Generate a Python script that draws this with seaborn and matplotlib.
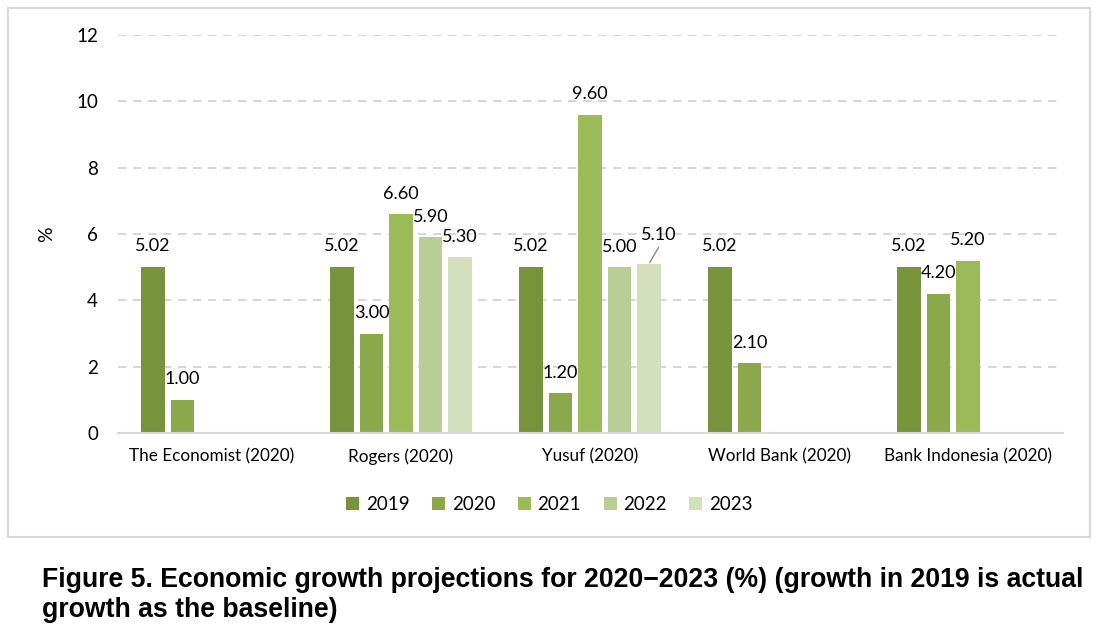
import numpy as np
import pandas as pd
import matplotlib
matplotlib.use("Agg")
import matplotlib.pyplot as plt
from matplotlib.patches import Rectangle
import seaborn as sns

sources = ["The Economist (2020)", "Rogers (2020)", "Yusuf (2020)", "World Bank (2020)", "Bank Indonesia (2020)"]
years = ["2019", "2020", "2021", "2022", "2023"]
v2019 = [5.02, 5.02, 5.02, 5.02, 5.02]
v2020 = [1.00, 3.00, 1.20, 2.10, 4.20]
v2021 = [np.nan, 6.60, 9.60, np.nan, 5.20]
v2022 = [np.nan, 5.90, 5.00, np.nan, np.nan]
v2023 = [np.nan, 5.30, 5.10, np.nan, np.nan]
colors = ["#77933C", "#8CA84C", "#9BBB59", "#B9CD96", "#D3DFBD"]
caption = "Figure 5. Economic growth projections for 2020\u22122023 (%) (growth in 2019 is actual\ngrowth as the baseline)"

series = [v2019, v2020, v2021, v2022, v2023]
rows = []
for y, vals in zip(years, series):
    for s, v in zip(sources, vals):
        if not np.isnan(v):
            rows.append({"source": s, "year": y, "value": v})
df = pd.DataFrame(rows)

sns.set_theme(style="white")
plt.rcParams["font.family"] = ["Lato", "DejaVu Sans"]

fig = plt.figure(figsize=(11.01, 6.44), dpi=100)
ax = fig.add_axes([117.5 / 1101, 1 - 433 / 644, 945 / 1101, 398 / 644])

sns.barplot(data=df, x="source", y="value", hue="year", hue_order=years,
            order=sources, palette=colors, width=0.78, gap=0.2, linewidth=0,
            saturation=1, ax=ax, legend=True, errorbar=None)

ax.set_ylim(0, 12)
ax.set_xlim(-0.5, 4.5)
ax.set_yticks(np.arange(0, 13, 2))
ax.set_yticklabels([str(t) for t in range(0, 13, 2)], fontsize=13.5, color="#000000")
ax.tick_params(axis="y", length=0, pad=14)
ax.tick_params(axis="x", length=0, pad=11, labelsize=12.3, labelcolor="#000000")
ax.yaxis.grid(True, linestyle=(0, (5, 4)), color="#D0D0D0", linewidth=1.2)
ax.set_axisbelow(True)
for sp in ["top", "right", "left"]:
    ax.spines[sp].set_visible(False)
ax.spines["bottom"].set_color("#D9D9D9")
ax.spines["bottom"].set_linewidth(1.5)
ax.set_xlabel("")
ax.set_ylabel("%", fontsize=14, color="#000000")
ax.yaxis.set_label_coords(-0.066, 0.5)

# label offsets (points) for specific bars: (year, source) -> (dx, dy)
special = {("2023", "Yusuf (2020)"): (7, 15)}
leader = {("2023", "Yusuf (2020)")}
for y, vals, cont in zip(years, series, ax.containers):
    present = [s for s, v in zip(sources, vals) if not np.isnan(v)]
    for s, p in zip(present, cont.patches):
        h = p.get_height()
        xc = p.get_x() + p.get_width() / 2
        dx, dy = special.get((y, s), (0, 9))
        ax.annotate(f"{h:.2f}", xy=(xc, h), xytext=(dx, dy), textcoords="offset points",
                    ha="center", va="bottom", fontsize=13, color="#000000")
        if (y, s) in leader:
            ax.annotate("", xy=(xc, h), xytext=(dx, dy - 3), textcoords="offset points",
                        arrowprops=dict(arrowstyle="-", color="#808080", lw=0.9,
                                        shrinkA=0, shrinkB=1))

leg = ax.legend(loc="upper center", bbox_to_anchor=(0.457, -0.115), ncol=5, frameon=False,
                fontsize=13.5, handlelength=0.7, handleheight=0.7, handletextpad=0.35,
                columnspacing=1.2)
for t in leg.get_texts():
    t.set_color("#000000")

fig.patches.append(Rectangle((8 / 1101, 1 - 537 / 644), 1082 / 1101, 529 / 644,
                             transform=fig.transFigure, fill=False,
                             edgecolor="#D9D9D9", linewidth=1.5))

fig.text(42 / 1101, 1 - 567 / 644, caption, ha="left", va="top",
         fontsize=19.2, fontweight="bold", family=["Liberation Sans", "DejaVu Sans"],
         linespacing=1.18, color="#000000")

fig.savefig("out.png", dpi=100)
